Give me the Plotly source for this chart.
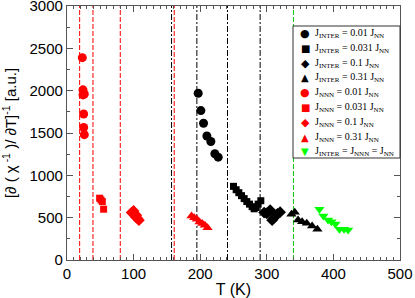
import plotly.graph_objects as go

# ---- data ----
inter001_T = [197, 201, 205, 210, 216, 222, 227]
inter001_v = [1970, 1765, 1615, 1465, 1400, 1255, 1215]
inter0031_T = [250, 254, 258, 262, 266, 270, 274, 278, 281, 284, 287, 291]
inter0031_v = [870, 830, 795, 760, 725, 690, 660, 630, 605, 620, 660, 700]
inter01_T = [296, 300, 305, 308, 311, 316, 320]
inter01_v = [560, 550, 590, 470, 500, 545, 565]
inter031_T = [337, 342, 347, 353, 360, 368, 376]
inter031_v = [540, 563, 472, 453, 433, 402, 362]
nnn001_T = [23, 24, 24, 25, 25, 26, 26]
nnn001_v = [2390, 2010, 1950, 1725, 1565, 1480, 1960]
nnn0031_T = [49, 51, 53, 55]
nnn0031_v = [730, 710, 690, 600]
nnn01_T = [97, 100, 101, 103, 104, 106, 108]
nnn01_v = [560, 580, 540, 510, 530, 490, 470]
nnn031_T = [187, 191, 195, 199, 203, 207, 211]
nnn031_v = [520, 500, 480, 450, 430, 410, 380]
eq_T = [379, 385, 392, 397, 403, 409, 416, 422]
eq_v = [600, 520, 472, 453, 425, 362, 362, 354]

red_lines = [19, 39, 80, 161]
black_lines = [157, 195, 241, 290]
green_lines = [340]

series = [
    ("J<sub>INTER</sub> = 0.01 J<sub>NN</sub>", inter001_T, inter001_v, "circle", "black", 9, "●"),
    ("J<sub>INTER</sub> = 0.031 J<sub>NN</sub>", inter0031_T, inter0031_v, "square", "black", 7, "■"),
    ("J<sub>INTER</sub> = 0.1 J<sub>NN</sub>", inter01_T, inter01_v, "diamond", "black", 9, "◆"),
    ("J<sub>INTER</sub> = 0.31 J<sub>NN</sub>", inter031_T, inter031_v, "triangle-up", "black", 9, "▲"),
    ("J<sub>NNN</sub> = 0.01 J<sub>NN</sub>", nnn001_T, nnn001_v, "circle", "red", 9, "●"),
    ("J<sub>NNN</sub> = 0.031 J<sub>NN</sub>", nnn0031_T, nnn0031_v, "square", "red", 7, "■"),
    ("J<sub>NNN</sub> = 0.1 J<sub>NN</sub>", nnn01_T, nnn01_v, "diamond", "red", 9, "◆"),
    ("J<sub>NNN</sub> = 0.31 J<sub>NN</sub>", nnn031_T, nnn031_v, "triangle-up", "red", 9, "▲"),
    ("J<sub>INTER</sub> = J<sub>NNN</sub> = J<sub>NN</sub>", eq_T, eq_v, "triangle-down", "#00ff00", 9, "▼"),
]

W, H = 415, 298
ML, MR, MT, MB = 67, 15, 6, 38
pw, ph = W - ML - MR, H - MT - MB

def px2paper_x(px):
    return (px - ML) / pw

def px2paper_y(py):
    return (H - MB - py) / ph

fig = go.Figure()

for xs, col, dash in [(red_lines, "red", "5px,2px"), (black_lines, "black", "6px,2px,2px,2px"),
                      (green_lines, "#00cc00", "5px,2px")]:
    for xv in xs:
        fig.add_shape(type="line", xref="x", yref="paper", x0=xv, x1=xv, y0=0, y1=1,
                      line=dict(color=col, width=1, dash=dash), layer="below")

for name, xs, ys, sym, col, sz, glyph in series:
    fig.add_trace(go.Scatter(x=xs, y=ys, mode="markers", name=name, showlegend=False,
                             marker=dict(symbol=sym, color=col, size=sz, line=dict(width=0))))

# hand-built legend box (compact, like the reference)
fig.add_shape(type="rect", xref="paper", yref="paper",
              x0=px2paper_x(293), x1=px2paper_x(400), y0=px2paper_y(158), y1=px2paper_y(26),
              line=dict(color="#333", width=1), fillcolor="white", layer="above")
row0, step = 33.5, 14.8
for i, (name, xs, ys, sym, col, sz, glyph) in enumerate(series):
    yy = px2paper_y(row0 + i * step)
    fig.add_annotation(xref="paper", yref="paper", x=px2paper_x(305), y=yy, text=glyph,
                       showarrow=False, xanchor="center", yanchor="middle",
                       font=dict(family="DejaVu Sans", size=11 if glyph in "●◆" else 10, color=col))
    fig.add_annotation(xref="paper", yref="paper", x=px2paper_x(313), y=yy, text=name,
                       showarrow=False, xanchor="left", yanchor="middle",
                       font=dict(family="Liberation Serif, Times New Roman", size=10, color="black"))

axis_common = dict(showgrid=False, zeroline=False, showline=True, linecolor="#555", linewidth=1.2,
                   mirror="allticks", ticks="inside", ticklen=6, tickcolor="#555", automargin=False,
                   ticklabeloverflow="allow",
                   tickfont=dict(family="Liberation Sans, Arial", size=15, color="black"))

fig.update_xaxes(range=[0, 500], dtick=100, tick0=0,
                 minor=dict(ticks="inside", dtick=10, ticklen=3, tickcolor="#555"),
                 title=dict(text="T (K)", font=dict(family="Liberation Sans, Arial", size=16, color="black")),
                 **axis_common)
fig.update_yaxes(range=[0, 3000], dtick=500, tick0=0,
                 minor=dict(ticks="inside", dtick=250, ticklen=3, tickcolor="#555"),
                 title=dict(text="[∂ ( χ<sup> -1</sup> )/ ∂T]<sup>-1</sup> [a.u.]",
                            font=dict(family="Liberation Sans, Arial", size=15, color="black")),
                 **axis_common)

fig.update_layout(
    width=W, height=H,
    margin=dict(l=ML, r=MR, t=MT, b=MB),
    plot_bgcolor="white", paper_bgcolor="white",
    showlegend=False,
)

fig.write_html("out.html", config={"displayModeBar": False},
               post_script="document.body.style.margin='0';")
